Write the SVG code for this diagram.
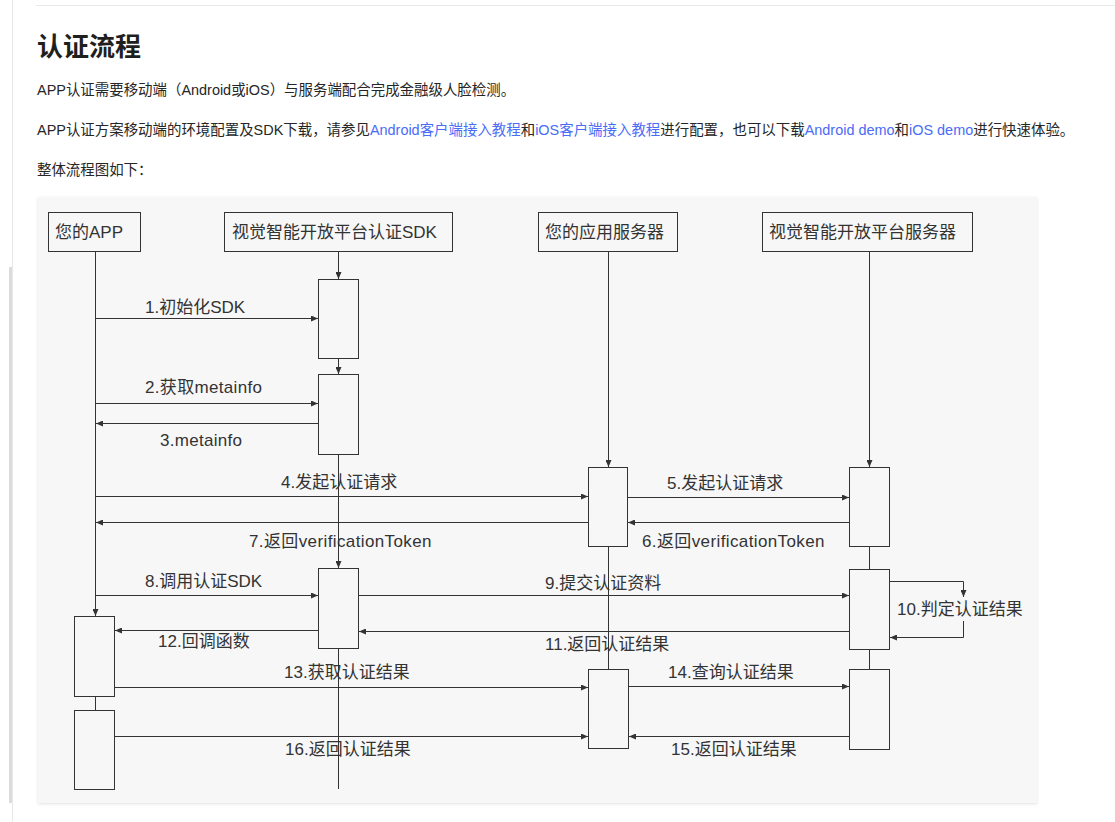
<svg xmlns="http://www.w3.org/2000/svg" width="1115" height="822" viewBox="0 0 1115 822">
<style>
.pg{font-family:"Liberation Sans","Noto Sans CJK SC",sans-serif;font-size:14.45px;fill:#262626}
.lk{fill:#4a6cf7}
.ttl{font-family:"Liberation Sans","Noto Sans CJK SC",sans-serif;font-size:26px;font-weight:bold;fill:#1f1f1f}
.box{fill:#f7f7f7;stroke:#333;stroke-width:1}
.lbl{font-family:"Liberation Sans","Noto Sans CJK SC",sans-serif;font-size:17px;fill:#333}
.ln{fill:none;stroke:#333;stroke-width:1}
.ar{fill:none;stroke:#333;stroke-width:1;marker-end:url(#ah)}
</style>
<defs>
<marker id="ah" viewBox="0 0 7 6" refX="7" refY="3" markerWidth="7" markerHeight="6" markerUnits="userSpaceOnUse" orient="auto">
<path d="M0,0 L7,3 L0,6 z" fill="#333"/>
</marker>
<filter id="sh" x="-5%" y="-5%" width="110%" height="110%">
<feDropShadow dx="0" dy="1" stdDeviation="1.5" flood-color="#000" flood-opacity="0.12"/>
</filter>
</defs>
<rect x="0" y="0" width="1115" height="822" fill="#ffffff"/>
<line x1="12.5" y1="0" x2="12.5" y2="822" stroke="#e8e8e8" stroke-width="1"/>
<rect x="9" y="267" width="3" height="536" fill="#dcdcdc"/>
<line x1="36" y1="5.5" x2="1115" y2="5.5" stroke="#e8e8e8" stroke-width="1"/>

<text class="ttl" x="37" y="56">认证流程</text>
<text class="pg" x="37" y="95">APP认证需要移动端（Android或iOS）与服务端配合完成金融级人脸检测。</text>
<text class="pg" x="37" y="135">APP认证方案移动端的环境配置及SDK下载，请参见<tspan class="lk">Android客户端接入教程</tspan>和<tspan class="lk">iOS客户端接入教程</tspan>进行配置，也可以下载<tspan class="lk">Android demo</tspan>和<tspan class="lk">iOS demo</tspan>进行快速体验。</text>
<text class="pg" x="37" y="175">整体流程图如下：</text>

<rect x="38" y="197" width="999" height="606" fill="#f7f7f7" filter="url(#sh)"/>

<g id="connectors">
<path class="ar" d="M95.5,252 V616"/>
<path class="ln" d="M95.5,697 V710"/>
<path class="ar" d="M338.5,252 V279"/>
<path class="ar" d="M338.5,359 V374"/>
<path class="ar" d="M338.5,455 V568"/>
<path class="ln" d="M338.5,649 V789"/>
<path class="ar" d="M608.5,252 V467"/>
<path class="ln" d="M608.5,547 V669"/>
<path class="ar" d="M869.5,252 V467"/>
<path class="ln" d="M869.5,547 V569"/>
<path class="ln" d="M869.5,650 V669"/>
<path class="ar" d="M95.5,318.5 H318"/>
<path class="ar" d="M95.5,403.5 H318"/>
<path class="ar" d="M318.5,423.5 H96"/>
<path class="ar" d="M95.5,496.5 H588"/>
<path class="ar" d="M627.5,497.5 H849"/>
<path class="ar" d="M849.5,522.5 H628"/>
<path class="ar" d="M588.5,522.5 H96"/>
<path class="ar" d="M95.5,595.5 H318"/>
<path class="ar" d="M358.5,595.5 H849"/>
<path class="ar" d="M889.5,581.5 H963.5 V597"/>
<path class="ar" d="M963.5,621 V637.5 H890"/>
<path class="ar" d="M849.5,631.5 H359"/>
<path class="ar" d="M318.5,630.5 H115"/>
<path class="ar" d="M114.5,687.5 H588"/>
<path class="ar" d="M628.5,686.5 H849"/>
<path class="ar" d="M849.5,736.5 H629"/>
<path class="ar" d="M114.5,736.5 H588"/>
</g>

<g id="app">
<rect class="box" x="48.5" y="212.5" width="92" height="39"/>
<text class="lbl" x="55" y="238">您的APP</text>
</g>
<g id="sdk">
<rect class="box" x="224.5" y="212.5" width="228" height="39"/>
<text class="lbl" x="232" y="238">视觉智能开放平台认证SDK</text>
</g>
<g id="appserver">
<rect class="box" x="538.5" y="212.5" width="139" height="39"/>
<text class="lbl" x="545" y="238">您的应用服务器</text>
</g>
<g id="platform">
<rect class="box" x="762.5" y="212.5" width="210" height="39"/>
<text class="lbl" x="769" y="238">视觉智能开放平台服务器</text>
</g>

<g id="sdk-act1"><rect class="box" x="318.5" y="279.5" width="40" height="79"/></g>
<g id="sdk-act2"><rect class="box" x="318.5" y="374.5" width="40" height="80"/></g>
<g id="sdk-act3"><rect class="box" x="318.5" y="568.5" width="40" height="80"/></g>
<g id="appserver-act1"><rect class="box" x="588.5" y="467.5" width="39" height="79"/></g>
<g id="appserver-act2"><rect class="box" x="588.5" y="669.5" width="40" height="79"/></g>
<g id="platform-act1"><rect class="box" x="849.5" y="467.5" width="40" height="79"/></g>
<g id="platform-act2"><rect class="box" x="849.5" y="569.5" width="40" height="80"/></g>
<g id="platform-act3"><rect class="box" x="849.5" y="669.5" width="40" height="80"/></g>
<g id="app-act1"><rect class="box" x="74.5" y="616.5" width="40" height="80"/></g>
<g id="app-act2"><rect class="box" x="74.5" y="710.5" width="40" height="79"/></g>

<g id="labels">
<text class="lbl" x="145" y="313">1.初始化SDK</text>
<text class="lbl" x="145" y="393" textLength="117" lengthAdjust="spacing">2.获取metainfo</text>
<text class="lbl" x="160" y="446" textLength="82" lengthAdjust="spacing">3.metainfo</text>
<text class="lbl" x="281" y="488">4.发起认证请求</text>
<text class="lbl" x="667" y="489">5.发起认证请求</text>
<text class="lbl" x="642" y="547" textLength="182.5" lengthAdjust="spacing">6.返回verificationToken</text>
<text class="lbl" x="249" y="547" textLength="182.5" lengthAdjust="spacing">7.返回verificationToken</text>
<text class="lbl" x="145" y="587">8.调用认证SDK</text>
<text class="lbl" x="545" y="589">9.提交认证资料</text>
<text class="lbl" x="897" y="615">10.判定认证结果</text>
<text class="lbl" x="545" y="650">11.返回认证结果</text>
<text class="lbl" x="158" y="647">12.回调函数</text>
<text class="lbl" x="284" y="678">13.获取认证结果</text>
<text class="lbl" x="668" y="678">14.查询认证结果</text>
<text class="lbl" x="671" y="755">15.返回认证结果</text>
<text class="lbl" x="285" y="755">16.返回认证结果</text>
</g>
</svg>
